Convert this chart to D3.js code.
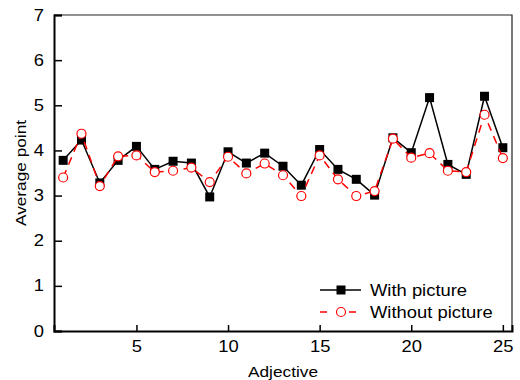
<!DOCTYPE html>
<html>
<head>
<meta charset="utf-8">
<script src="https://cdn.jsdelivr.net/npm/d3@7"></script>
<style>
  body { margin: 0; background: #fff; }
  text { font-family: "Liberation Sans", Arial, sans-serif; fill: #000; }
</style>
</head>
<body>
<div id="chart"></div>
<script>
// values
const adjectives = d3.range(1, 26);
const withPicture = [3.78, 4.23, 3.28, 3.78, 4.09, 3.58, 3.76, 3.72, 2.97, 3.97,
  3.72, 3.94, 3.65, 3.23, 4.02, 3.58, 3.36, 3.01, 4.28, 3.95,
  5.17, 3.69, 3.47, 5.20, 4.06];
const withoutPicture = [3.40, 4.37, 3.21, 3.87, 3.89, 3.52, 3.55, 3.62, 3.30, 3.86,
  3.49, 3.71, 3.45, 2.99, 3.89, 3.36, 2.99, 3.10, 4.26, 3.84,
  3.94, 3.55, 3.52, 4.79, 3.83];
const xTicks = [5, 10, 15, 20, 25];
const yTicks = [0, 1, 2, 3, 4, 5, 6, 7];
const seriesNames = ['With picture', 'Without picture'];

const W = 520, H = 380;
const margin = { top: 15, right: 8, bottom: 49, left: 54 };
const width = W - margin.left - margin.right;
const height = H - margin.top - margin.bottom;
const stretch = 'scale(1.15,1)'; // reference font runs a bit wide

const svg = d3.select('#chart').append('svg')
  .attr('width', W)
  .attr('height', H);
const g = svg.append('g').attr('transform', `translate(${margin.left},${margin.top})`);

const x = d3.scaleLinear().domain([0.5, 25.5]).range([0, width]);
const y = d3.scaleLinear().domain([0, 7]).range([height, 0]);

// frame (top + right thin)
g.append('path')
  .attr('d', `M0,0H${width}V${height}`)
  .attr('fill', 'none')
  .attr('stroke', '#222')
  .attr('stroke-width', 1.2);

// axes, ticks pointing inward
const xAxis = d3.axisBottom(x).tickValues(xTicks).tickSize(-6).tickPadding(10);
const yAxis = d3.axisLeft(y).tickValues(yTicks).tickFormat(d3.format('d')).tickSize(-8).tickPadding(8.7);

const xG = g.append('g').attr('transform', `translate(0,${height})`).call(xAxis);
const yG = g.append('g').call(yAxis);
[xG, yG].forEach(a => {
  a.select('.domain').attr('stroke', '#000').attr('stroke-width', 2);
  a.selectAll('.tick line').attr('stroke', '#000').attr('stroke-width', 1.5);
  a.selectAll('.tick text')
    .attr('fill', '#000')
    .attr('transform', stretch)
    .style('font-size', '16px')
    .style('font-family', '"Liberation Sans", Arial, sans-serif');
});

// axis titles
svg.append('text')
  .attr('transform', `translate(${margin.left + width / 2},377) ${stretch}`)
  .attr('text-anchor', 'middle')
  .style('font-size', '15px')
  .text('Adjective');
svg.append('text')
  .attr('transform', `translate(26,${margin.top + height / 2}) rotate(-90) ${stretch}`)
  .attr('text-anchor', 'middle')
  .style('font-size', '15px')
  .text('Average point');

const line = d3.line().x((d, i) => x(adjectives[i])).y(d => y(d));

// With picture
g.append('path')
  .datum(withPicture)
  .attr('d', line)
  .attr('fill', 'none')
  .attr('stroke', '#000')
  .attr('stroke-width', 1.5);
g.selectAll('.sq').data(withPicture).enter().append('rect')
  .attr('class', 'sq')
  .attr('x', (d, i) => x(adjectives[i]) - 4.5)
  .attr('y', d => y(d) - 4.5)
  .attr('width', 9)
  .attr('height', 9)
  .attr('fill', '#000');

// Without picture
g.append('path')
  .datum(withoutPicture)
  .attr('d', line)
  .attr('fill', 'none')
  .attr('stroke', '#ff0000')
  .attr('stroke-width', 1.5)
  .attr('stroke-dasharray', '8,6');
g.selectAll('.ci').data(withoutPicture).enter().append('circle')
  .attr('class', 'ci')
  .attr('cx', (d, i) => x(adjectives[i]))
  .attr('cy', d => y(d))
  .attr('r', 4.5)
  .attr('fill', '#fff')
  .attr('stroke', '#ff0000')
  .attr('stroke-width', 1.2);

// legend
const leg = svg.append('g');
const rows = [
  { name: seriesNames[0], y: 290, color: '#000', dash: null, mark: 'square' },
  { name: seriesNames[1], y: 312, color: '#ff0000', dash: '7,22', mark: 'circle' }
];
rows.forEach(r => {
  leg.append('line')
    .attr('x1', 320).attr('x2', 361)
    .attr('y1', r.y).attr('y2', r.y)
    .attr('stroke', r.color)
    .attr('stroke-width', 1.5)
    .attr('stroke-dasharray', r.dash);
  if (r.mark === 'square') {
    leg.append('rect')
      .attr('x', 341 - 4.5).attr('y', r.y - 4.5)
      .attr('width', 9).attr('height', 9)
      .attr('fill', '#000');
  } else {
    leg.append('circle')
      .attr('cx', 341).attr('cy', r.y).attr('r', 4.5)
      .attr('fill', '#fff')
      .attr('stroke', r.color)
      .attr('stroke-width', 1.2);
  }
  leg.append('text')
    .attr('transform', `translate(370,${r.y + 6}) ${stretch}`)
    .style('font-size', '16px')
    .text(r.name);
});
</script>
</body>
</html>
